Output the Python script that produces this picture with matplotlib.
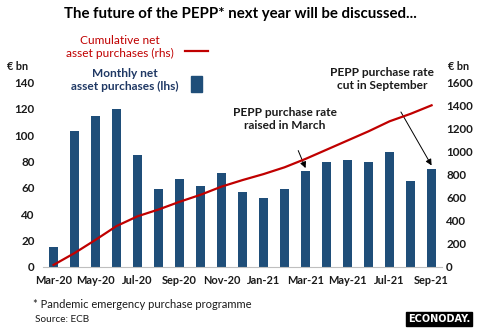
import matplotlib.pyplot as plt
import numpy as np

plt.rcParams['font.family'] = ['Lato', 'DejaVu Sans']

months = ["Mar-20", "Apr-20", "May-20", "Jun-20", "Jul-20", "Aug-20", "Sep-20",
          "Oct-20", "Nov-20", "Dec-20", "Jan-21", "Feb-21", "Mar-21", "Apr-21",
          "May-21", "Jun-21", "Jul-21", "Aug-21", "Sep-21"]
monthly = [15, 103, 115, 120, 85, 59, 67, 61, 71, 57, 52, 59, 73, 80, 81, 80, 87, 65, 74]
cumulative = [15, 118, 233, 353, 438, 497, 564, 625, 696, 753, 805, 864, 937,
              1017, 1097, 1177, 1264, 1329, 1403]

BLUE = "#1F4E79"
RED = "#C00000"
TXT = "#1a1a1a"

fig = plt.figure(figsize=(4.8, 3.28), dpi=100)
ax = fig.add_axes([0.0896, 0.187, 0.8314, 0.561])
ax2 = ax.twinx()

x = np.arange(len(months))
ax.bar(x, monthly, width=0.4, color=BLUE, zorder=2)
ax2.plot(x, cumulative, color=RED, lw=1.6, zorder=3)

ax.set_xlim(-0.5, len(months) - 0.5)
ax.set_ylim(0, 140)
ax2.set_ylim(0, 1600)
ax.set_yticks(range(0, 141, 20))
ax2.set_yticks(range(0, 1601, 200))
ax.set_xticks(x[::2])
ax.set_xticklabels(months[::2])

for a in (ax, ax2):
    for s in a.spines.values():
        s.set_visible(False)
    a.tick_params(length=0, labelsize=8.4, labelcolor=TXT)
ax.spines["bottom"].set_visible(True)
ax.spines["bottom"].set_color("#bfbfbf")
ax.tick_params(axis="x", pad=6, labelsize=7.9)
ax.tick_params(axis="y", pad=6)
ax2.tick_params(axis="y", pad=3)
for lab in ax.get_xticklabels() + ax.get_yticklabels() + ax2.get_yticklabels():
    lab.set_fontweight("bold")

fig.text(0.5, 0.958, "The future of the PEPP* next year will be discussed...",
         ha="center", va="center", fontsize=10.8, fontweight="bold", color="black")

# legend
fig.text(120 / 480, 1 - 47 / 328, "Cumulative net\nasset purchases (rhs)", ha="center",
         va="center", fontsize=8.6, color=RED, linespacing=1.2)
fig.add_artist(plt.Line2D([185 / 480, 208 / 480], [1 - 51 / 328, 1 - 51 / 328],
                          color=RED, lw=1.6))
fig.text(125 / 480, 1 - 80 / 328, "Monthly net\nasset purchases (lhs)", ha="center",
         va="center", fontsize=8.6, color="#1F3864", fontweight="bold", linespacing=1.2)
fig.add_artist(plt.Rectangle((191 / 480, 1 - 92 / 328), 11 / 480, 16 / 328,
                             color=BLUE, transform=fig.transFigure))

fig.text(18 / 480, 1 - 66 / 328, "€ bn", ha="center", va="center", fontsize=7.8,
         fontweight="bold", color=TXT)
fig.text(459 / 480, 1 - 67 / 328, "€ bn", ha="center", va="center", fontsize=7.8,
         fontweight="bold", color=TXT)

# annotations
ax.annotate("PEPP purchase rate\nraised in March", xy=(12, 75), xytext=(285 / 480, 1 - 119 / 328),
            textcoords="figure fraction", ha="center", va="center", fontsize=8.6,
            fontweight="bold", color=TXT, linespacing=1.25,
            arrowprops=dict(arrowstyle="-|>", color="black", lw=0.7,
                            shrinkA=13, shrinkB=0, mutation_scale=9))
ax.annotate("PEPP purchase rate\ncut in September", xy=(18, 77), xytext=(382 / 480, 1 - 79 / 328),
            textcoords="figure fraction", ha="center", va="center", fontsize=8.6,
            fontweight="bold", color=TXT, linespacing=1.25,
            arrowprops=dict(arrowstyle="-|>", color="black", lw=0.7,
                            shrinkA=15, shrinkB=0, mutation_scale=9))

# footer
fig.text(33 / 480, 1 - 305 / 328, "* Pandemic emergency purchase programme", ha="left",
         va="center", fontsize=8, color=TXT)
fig.text(35 / 480, 1 - 319 / 328, "Source: ECB", ha="left", va="center",
         fontsize=7.2, color=TXT)
fig.text(439 / 480, 1 - 319 / 328, "ECONODAY.", ha="center", va="center", fontsize=7,
         fontweight="bold", color="white", family="DejaVu Sans", fontstretch="expanded",
         bbox=dict(boxstyle="square,pad=0.22", fc="black", ec="black"))

fig.savefig("out.png", dpi=100)
